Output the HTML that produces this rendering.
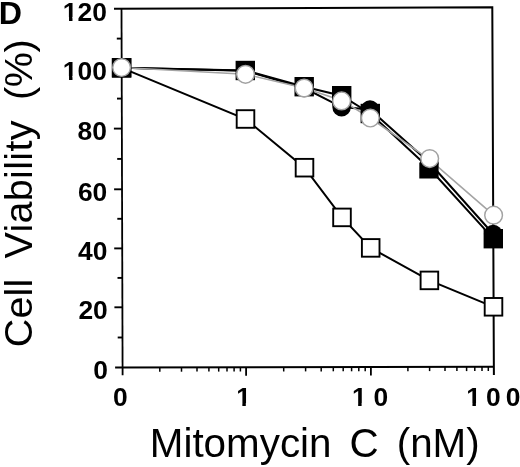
<!DOCTYPE html>
<html><head><meta charset="utf-8"><title>Cell viability vs Mitomycin C</title><style>
html,body{margin:0;padding:0;background:#fff;}
svg{display:block;}
</style></head><body>
<svg width="520" height="467" viewBox="0 0 520 467">
<rect width="520" height="467" fill="#fff"/>
<path d="M114.0,8.7 L492.3,7.2 L493.9,375.1" fill="none" stroke="#000" stroke-width="2"/>
<path d="M121.5,8.7 L122.6,375.20000000000005" fill="none" stroke="#000" stroke-width="1.8"/>
<path d="M115.1,367.6 L493.9,366.8" fill="none" stroke="#000" stroke-width="2"/>
<line x1="117.7" y1="337.5" x2="122.5" y2="337.5" stroke="#000" stroke-width="1.9"/>
<line x1="114.4" y1="307.3" x2="122.4" y2="307.3" stroke="#000" stroke-width="1.9"/>
<line x1="117.5" y1="277.9" x2="122.3" y2="277.9" stroke="#000" stroke-width="1.9"/>
<line x1="114.2" y1="248.4" x2="122.2" y2="248.4" stroke="#000" stroke-width="1.9"/>
<line x1="117.3" y1="218.8" x2="122.1" y2="218.8" stroke="#000" stroke-width="1.9"/>
<line x1="114.1" y1="189.3" x2="122.1" y2="189.3" stroke="#000" stroke-width="1.9"/>
<line x1="117.2" y1="158.9" x2="122.0" y2="158.9" stroke="#000" stroke-width="1.9"/>
<line x1="113.9" y1="128.6" x2="121.9" y2="128.6" stroke="#000" stroke-width="1.9"/>
<line x1="117.0" y1="98.6" x2="121.8" y2="98.6" stroke="#000" stroke-width="1.9"/>
<line x1="113.7" y1="68.6" x2="121.7" y2="68.6" stroke="#000" stroke-width="1.9"/>
<line x1="116.8" y1="38.6" x2="121.6" y2="38.6" stroke="#000" stroke-width="1.9"/>
<line x1="159.8" y1="367.5" x2="159.8" y2="371.7" stroke="#000" stroke-width="1.5"/>
<line x1="181.5" y1="367.5" x2="181.5" y2="371.7" stroke="#000" stroke-width="1.5"/>
<line x1="197.0" y1="367.4" x2="197.0" y2="371.6" stroke="#000" stroke-width="1.5"/>
<line x1="208.9" y1="367.4" x2="208.9" y2="371.6" stroke="#000" stroke-width="1.5"/>
<line x1="218.7" y1="367.4" x2="218.7" y2="371.6" stroke="#000" stroke-width="1.5"/>
<line x1="227.0" y1="367.4" x2="227.0" y2="371.6" stroke="#000" stroke-width="1.5"/>
<line x1="234.1" y1="367.4" x2="234.1" y2="371.6" stroke="#000" stroke-width="1.5"/>
<line x1="240.4" y1="367.3" x2="240.4" y2="371.5" stroke="#000" stroke-width="1.5"/>
<line x1="246.1" y1="367.3" x2="246.1" y2="375.7" stroke="#000" stroke-width="1.8"/>
<line x1="283.7" y1="367.3" x2="283.7" y2="371.5" stroke="#000" stroke-width="1.5"/>
<line x1="305.6" y1="367.2" x2="305.6" y2="371.4" stroke="#000" stroke-width="1.5"/>
<line x1="321.2" y1="367.2" x2="321.2" y2="371.4" stroke="#000" stroke-width="1.5"/>
<line x1="333.3" y1="367.1" x2="333.3" y2="371.3" stroke="#000" stroke-width="1.5"/>
<line x1="343.2" y1="367.1" x2="343.2" y2="371.3" stroke="#000" stroke-width="1.5"/>
<line x1="351.6" y1="367.1" x2="351.6" y2="371.3" stroke="#000" stroke-width="1.5"/>
<line x1="358.8" y1="367.1" x2="358.8" y2="371.3" stroke="#000" stroke-width="1.5"/>
<line x1="365.2" y1="367.1" x2="365.2" y2="371.3" stroke="#000" stroke-width="1.5"/>
<line x1="370.9" y1="367.1" x2="370.9" y2="375.5" stroke="#000" stroke-width="1.8"/>
<line x1="407.9" y1="367.0" x2="407.9" y2="371.2" stroke="#000" stroke-width="1.5"/>
<line x1="429.6" y1="366.9" x2="429.6" y2="371.1" stroke="#000" stroke-width="1.5"/>
<line x1="445.0" y1="366.9" x2="445.0" y2="371.1" stroke="#000" stroke-width="1.5"/>
<line x1="456.9" y1="366.9" x2="456.9" y2="371.1" stroke="#000" stroke-width="1.5"/>
<line x1="466.6" y1="366.9" x2="466.6" y2="371.1" stroke="#000" stroke-width="1.5"/>
<line x1="474.8" y1="366.8" x2="474.8" y2="371.0" stroke="#000" stroke-width="1.5"/>
<line x1="482.0" y1="366.8" x2="482.0" y2="371.0" stroke="#000" stroke-width="1.5"/>
<line x1="488.3" y1="366.8" x2="488.3" y2="371.0" stroke="#000" stroke-width="1.5"/>
<polyline points="121.7,67.8 245.5,119.0 304.5,167.7 342.0,217.4 370.7,247.9 429.4,280.4 493.5,306.8" fill="none" stroke="#000" stroke-width="2"/>
<polyline points="121.5,67.8 245.3,70.5 304.2,86.7 341.7,95.7 370.3,113.5 429.0,168.0 493.3,238.7" fill="none" stroke="#000" stroke-width="2"/>
<polyline points="121.5,67.8 245.4,70.8 304.2,88.0 341.6,107.1 370.0,109.5 429.3,162.5 493.2,234.0" fill="none" stroke="#000" stroke-width="2"/>
<polyline points="121.6,67.5 245.5,74.3 304.1,88.0 341.6,100.4 370.3,118.0 429.6,159.6 493.6,215.2" fill="none" stroke="#a4a4a4" stroke-width="1.6"/>
<rect x="112.9" y="59.0" width="17.6" height="17.6" fill="#fff" stroke="#000" stroke-width="1.9"/>
<rect x="236.7" y="110.2" width="17.6" height="17.6" fill="#fff" stroke="#000" stroke-width="1.9"/>
<rect x="295.7" y="158.9" width="17.6" height="17.6" fill="#fff" stroke="#000" stroke-width="1.9"/>
<rect x="333.2" y="208.6" width="17.6" height="17.6" fill="#fff" stroke="#000" stroke-width="1.9"/>
<rect x="361.9" y="239.1" width="17.6" height="17.6" fill="#fff" stroke="#000" stroke-width="1.9"/>
<rect x="420.6" y="271.6" width="17.6" height="17.6" fill="#fff" stroke="#000" stroke-width="1.9"/>
<rect x="484.7" y="298.0" width="17.6" height="17.6" fill="#fff" stroke="#000" stroke-width="1.9"/>
<rect x="111.8" y="58.1" width="19.4" height="19.4" fill="#000"/>
<rect x="235.6" y="60.8" width="19.4" height="19.4" fill="#000"/>
<rect x="294.5" y="77.0" width="19.4" height="19.4" fill="#000"/>
<rect x="332.0" y="86.0" width="19.4" height="19.4" fill="#000"/>
<rect x="360.6" y="103.8" width="19.4" height="19.4" fill="#000"/>
<rect x="419.3" y="162.5" width="19.3" height="16" fill="#000"/>
<rect x="483.6" y="229.0" width="19.4" height="19.4" fill="#000"/>
<circle cx="121.5" cy="67.8" r="9.3" fill="#000"/>
<circle cx="245.4" cy="70.8" r="9.3" fill="#000"/>
<circle cx="304.2" cy="88" r="9.3" fill="#000"/>
<circle cx="341.6" cy="107.1" r="9.3" fill="#000"/>
<circle cx="370" cy="109.5" r="9.3" fill="#000"/>
<circle cx="429.3" cy="162.5" r="9.3" fill="#000"/>
<circle cx="493.2" cy="234" r="9.3" fill="#000"/>
<circle cx="121.6" cy="67.5" r="8.85" fill="#fff" stroke="#a2a2a2" stroke-width="1.45"/>
<circle cx="245.5" cy="74.3" r="8.85" fill="#fff" stroke="#a2a2a2" stroke-width="1.45"/>
<circle cx="304.1" cy="88" r="8.85" fill="#fff" stroke="#a2a2a2" stroke-width="1.45"/>
<circle cx="341.6" cy="100.9" r="8.85" fill="#fff" stroke="#a2a2a2" stroke-width="1.45"/>
<circle cx="370.3" cy="118" r="8.85" fill="#fff" stroke="#a2a2a2" stroke-width="1.45"/>
<circle cx="429.7" cy="158.6" r="8.85" fill="#fff" stroke="#a2a2a2" stroke-width="1.45"/>
<circle cx="493.6" cy="215.2" r="8.85" fill="#fff" stroke="#a2a2a2" stroke-width="1.45"/>
<text x="-1.15" y="23.5" font-family="Liberation Sans, Arial, sans-serif" font-weight="bold" font-size="32.2">D</text>
<text x="62.84" y="20.60" font-family="Liberation Sans, Arial, sans-serif" font-weight="bold" font-size="26.4">1</text>
<text x="77.52" y="20.60" font-family="Liberation Sans, Arial, sans-serif" font-weight="bold" font-size="26.4">2</text>
<text x="92.20" y="20.60" font-family="Liberation Sans, Arial, sans-serif" font-weight="bold" font-size="26.4">0</text>
<text x="62.84" y="79.60" font-family="Liberation Sans, Arial, sans-serif" font-weight="bold" font-size="26.4">1</text>
<text x="77.52" y="79.60" font-family="Liberation Sans, Arial, sans-serif" font-weight="bold" font-size="26.4">0</text>
<text x="92.20" y="79.60" font-family="Liberation Sans, Arial, sans-serif" font-weight="bold" font-size="26.4">0</text>
<text x="77.62" y="140.40" font-family="Liberation Sans, Arial, sans-serif" font-weight="bold" font-size="26.4">8</text>
<text x="92.30" y="140.40" font-family="Liberation Sans, Arial, sans-serif" font-weight="bold" font-size="26.4">0</text>
<text x="77.92" y="201.20" font-family="Liberation Sans, Arial, sans-serif" font-weight="bold" font-size="26.4">6</text>
<text x="92.60" y="201.20" font-family="Liberation Sans, Arial, sans-serif" font-weight="bold" font-size="26.4">0</text>
<text x="78.12" y="260.20" font-family="Liberation Sans, Arial, sans-serif" font-weight="bold" font-size="26.4">4</text>
<text x="92.80" y="260.20" font-family="Liberation Sans, Arial, sans-serif" font-weight="bold" font-size="26.4">0</text>
<text x="78.42" y="319.00" font-family="Liberation Sans, Arial, sans-serif" font-weight="bold" font-size="26.4">2</text>
<text x="93.10" y="319.00" font-family="Liberation Sans, Arial, sans-serif" font-weight="bold" font-size="26.4">0</text>
<text x="93.30" y="379.20" font-family="Liberation Sans, Arial, sans-serif" font-weight="bold" font-size="26.4">0</text>
<text x="112.96" y="406.10" font-family="Liberation Sans, Arial, sans-serif" font-weight="bold" font-size="26.4">0</text>
<text x="236.16" y="406.10" font-family="Liberation Sans, Arial, sans-serif" font-weight="bold" font-size="26.4">1</text>
<text x="351.96" y="406.10" font-family="Liberation Sans, Arial, sans-serif" font-weight="bold" font-size="26.4">1</text>
<text x="373.56" y="406.10" font-family="Liberation Sans, Arial, sans-serif" font-weight="bold" font-size="26.4">0</text>
<text x="466.26" y="406.10" font-family="Liberation Sans, Arial, sans-serif" font-weight="bold" font-size="26.4">1</text>
<text x="485.96" y="406.10" font-family="Liberation Sans, Arial, sans-serif" font-weight="bold" font-size="26.4">0</text>
<text x="505.76" y="406.10" font-family="Liberation Sans, Arial, sans-serif" font-weight="bold" font-size="26.4">0</text>
<rect x="64" y="17" width="5.03" height="5" fill="#fff"/>
<rect x="72.48" y="17" width="5.52" height="5" fill="#fff"/>
<rect x="64" y="76" width="5.03" height="5" fill="#fff"/>
<rect x="72.48" y="76" width="5.52" height="5" fill="#fff"/>
<rect x="237" y="403" width="5.35" height="5" fill="#fff"/>
<rect x="245.81" y="403" width="5.19" height="5" fill="#fff"/>
<rect x="353" y="403" width="5.15" height="5" fill="#fff"/>
<rect x="361.61" y="403" width="5.39" height="5" fill="#fff"/>
<rect x="467" y="403" width="5.45" height="5" fill="#fff"/>
<rect x="475.91" y="403" width="5.09" height="5" fill="#fff"/>
<text transform="translate(0,457.1) scale(1,1.015)" x="149.79" y="0" font-family="Liberation Sans, Arial, sans-serif" font-size="40.4" letter-spacing="0">Mitomycin</text>
<text transform="translate(0,457.1) scale(1,1.015)" x="349.45" y="0" font-family="Liberation Sans, Arial, sans-serif" font-size="40.4" letter-spacing="0">C</text>
<text transform="translate(0,457.1) scale(1,1.015)" x="396.69" y="0" font-family="Liberation Sans, Arial, sans-serif" font-size="40.4" letter-spacing="0">(nM)</text>
<text transform="translate(32.2,0) rotate(-90)" x="-347.31" y="0" font-family="Liberation Sans, Arial, sans-serif" font-size="39.5" letter-spacing="0.2">Cell</text>
<text transform="translate(32.2,0) rotate(-90)" x="-258.57" y="0" font-family="Liberation Sans, Arial, sans-serif" font-size="39.5" letter-spacing="0.33">Viability</text>
<text transform="translate(32.2,0) rotate(-90)" x="-99.95" y="0" font-family="Liberation Sans, Arial, sans-serif" font-size="39.5" letter-spacing="-0.4">(%)</text>
</svg>
</body></html>
